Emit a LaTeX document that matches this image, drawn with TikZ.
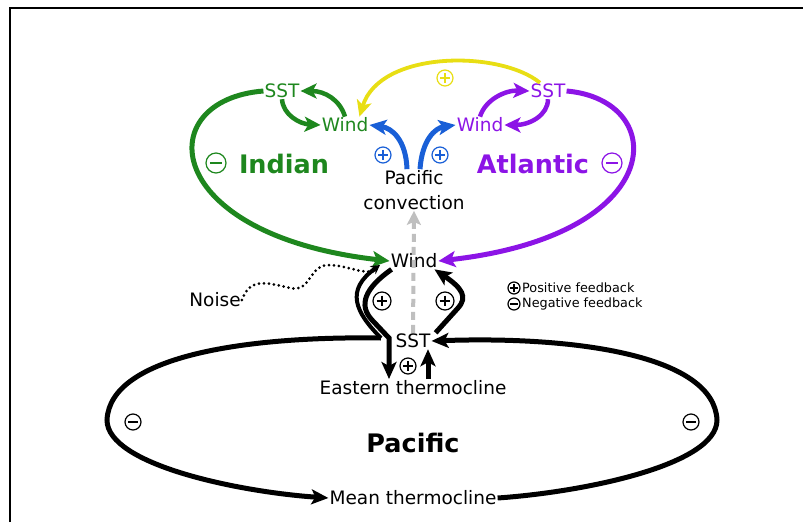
\documentclass[tikz,border=0pt]{standalone}
\usepackage{fontspec}
\setmainfont{DejaVu Sans}
\usepackage{tikz}
\usetikzlibrary{arrows.meta}

\definecolor{igreen}{RGB}{30,135,30}
\definecolor{apurple}{RGB}{140,20,230}
\definecolor{ayellow}{RGB}{232,222,20}
\definecolor{cblue}{RGB}{25,95,215}

\begin{document}
\begin{tikzpicture}[x=1pt,y=-1pt,
    txt/.style={inner sep=1pt,font=\fontsize{18.5}{25}\selectfont},
    basin/.style={inner sep=1pt,font=\fontsize{25.5}{28}\selectfont\bfseries},
    legtxt/.style={inner sep=1pt,font=\fontsize{12.8}{14}\selectfont},
    bigloop/.style={line width=5pt,-{Stealth[length=17pt,width=16pt,inset=4pt]}},
    fbarrow/.style={line width=4.5pt,-{Stealth[length=16pt,width=15pt,inset=4pt]}},
    blk/.style={line width=5pt,-{Stealth[length=17pt,width=15pt,inset=4pt]}},
    ylw/.style={ayellow,line width=3.8pt,-{Stealth[length=16pt,width=15pt,inset=4pt]}},
    blu/.style={cblue,line width=5pt,-{Stealth[length=17pt,width=15pt,inset=4pt]}},
    gry/.style={black!25,line width=4pt,dash pattern=on 8pt off 5pt,-{Stealth[length=14pt,width=14pt,inset=3pt]}},
    noiseline/.style={line width=3pt,line cap=round,dash pattern=on 0pt off 5pt},
    pics/pluscirc/.style={code={
      \draw[line width=1.2pt] (0,0) circle[radius=#1pt];
      \draw[line width=1.8pt] (-0.6*#1,0) -- (0.6*#1,0) (0,-0.6*#1) -- (0,0.6*#1);}},
    pics/minuscirc/.style={code={
      \draw[line width=1.2pt] (0,0) circle[radius=#1pt];
      \draw[line width=1.8pt] (-0.6*#1,0) -- (0.6*#1,0);}}]
  \useasboundingbox (0,0) rectangle (803,522);
  \draw[line width=1.5pt] (10,522) -- (10,8) -- (803,8);

  % texts
  \node[txt,igreen] (iSST) at (282,91) {SST};
  \node[txt,igreen] (iWind) at (345,125) {Wind};
  \node[txt,apurple] (aSST) at (548,91) {SST};
  \node[txt,apurple] (aWind) at (480,125) {Wind};
  \node[basin,igreen] (indian) at (284,164) {Indian};
  \node[basin,apurple] (atlantic) at (533,164) {Atlantic};
  \node[txt,align=center] (conv) at (414,190) {Pacific\\convection};
  \node[txt] (wind) at (414,261) {Wind};
  \node[txt] (sst) at (413,341) {SST};
  \node[txt] (eth) at (413,388) {Eastern thermocline};
  \node[basin] (pac) at (413,443) {Pacific};
  \node[txt] (mth) at (413,498) {Mean thermocline};
  \node[txt] (noise) at (215,300) {Noise};
  \node[legtxt,anchor=west] (pos) at (521,288) {Positive feedback};
  \node[legtxt,anchor=west] (neg) at (521,304) {Negative feedback};

  % feedback signs
  \pic[igreen] at (216,163) {minuscirc=10};
  \pic[apurple] at (612,163) {minuscirc=10};
  \pic[ayellow] at (445,78) {pluscirc=8};
  \pic[cblue] at (383,155) {pluscirc=8};
  \pic[cblue] at (440,155) {pluscirc=8};
  \pic at (382,301) {pluscirc=9};
  \pic at (445,301) {pluscirc=9};
  \pic at (408,366) {pluscirc=8};
  \pic at (133,422) {minuscirc=8};
  \pic at (691,422) {minuscirc=8};
  \pic at (514,288) {pluscirc=6};
  \pic at (514,304) {minuscirc=6};

  % Indian ocean
  \draw[bigloop,igreen] (iSST.west) .. controls (150,100) and (160,235) .. (wind.west);
  \draw[fbarrow,igreen] (iWind.north) .. controls (340,100) and (325,91) .. (iSST.east);
  \draw[fbarrow,igreen] (iSST.south) .. controls (283,115) and (300,124) .. (iWind.west);

  % Atlantic
  \draw[bigloop,apurple] (aSST.east) .. controls (670,100) and (670,235) .. (wind.east);
  \draw[fbarrow,apurple] (aWind.north) .. controls (485,100) and (505,90) .. (aSST.west);
  \draw[fbarrow,apurple] (aSST.south) .. controls (548,115) and (530,125) .. (aWind.east);

  \draw[ylw] ([xshift=-8pt]aSST.north) .. controls (500,50) and (380,50) .. ([xshift=-10pt]iWind.north east);
  \draw[blu] ([xshift=-7pt]conv.north) .. controls (406,140) and (392,128) .. (iWind.east);
  \draw[blu] ([xshift=6pt]conv.north) .. controls (422,140) and (435,128) .. (aWind.west);
  \draw[gry] (sst.north) -- (conv.south);

  % Pacific
  \coordinate (kinkL) at (381,338);
  \coordinate (outerEnd) at (380,265);
  \coordinate (noiseEnd) at (375,271);
  \coordinate (thermoL) at (389,379);
  \coordinate (thermoR) at (428,379);
  \draw[blk] (kinkL) .. controls (250,336) and (110,355) .. (107,420)
    .. controls (107,465) and (240,492) .. (mth.west);
  \draw[blk] (mth.east) .. controls (584,492) and (717,465) .. (717,420)
    .. controls (714,355) and (574,336) .. (sst.east);
  \draw[line width=4pt,-{Stealth[length=9pt,width=10pt]}] (kinkL) .. controls (355,312) and (345,290) .. (outerEnd);
  \draw[blk] ([xshift=2pt]wind.south west) .. controls (365,288) and (358,305) .. (372,320)
    -- (thermoL |- kinkL) -- (thermoL);
  \draw[blk] ([xshift=4pt]sst.north east) -- (458,308) .. controls (468,297) and (462,288) .. ([xshift=-4pt]wind.south east);
  \draw[blk] (thermoR) -- (thermoR |- sst.south);
  \draw[noiseline] (noise.east) .. controls (250,278) and (265,282) .. (290,288)
    .. controls (312,293) and (308,264) .. (330,265) .. controls (350,266) and (360,274) .. (noiseEnd);
\end{tikzpicture}
\end{document}
